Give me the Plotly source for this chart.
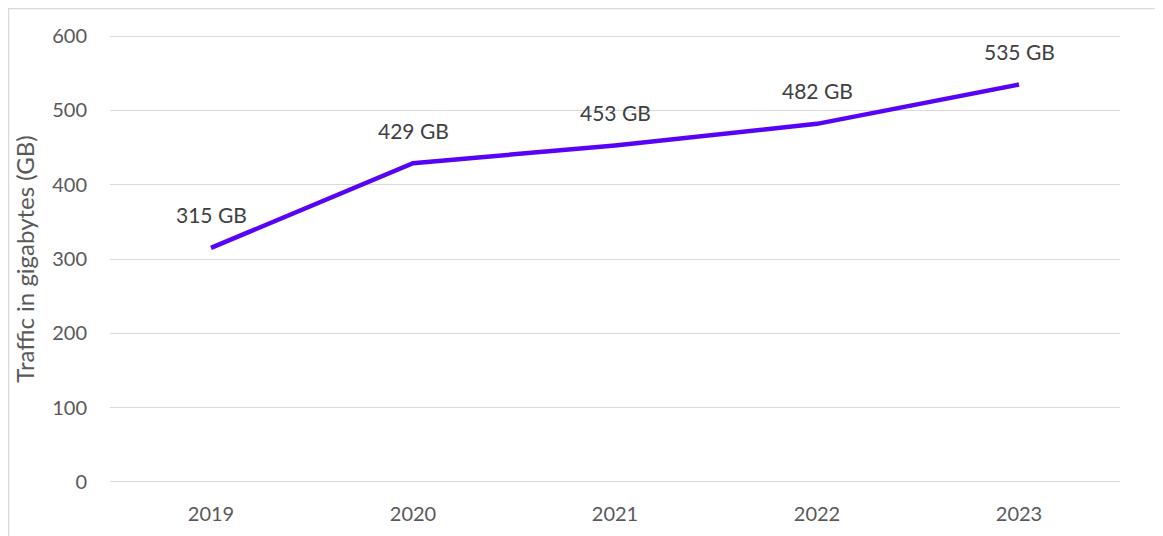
import plotly.graph_objects as go

years = ['2019', '2020', '2021', '2022', '2023']
traffic_gb = [315, 429, 453, 482, 535]
point_labels = ['315 GB', '429 GB', '453 GB', '482 GB', '535 GB']
y_ticks = [0, 100, 200, 300, 400, 500, 600]

fig = go.Figure()
fig.add_trace(go.Scatter(x=years, y=traffic_gb, mode='lines',
                         line=dict(color='#5703F5', width=4.5),
                         hoverinfo='x+y', showlegend=False))

# data labels sit above each point, Excel style
for i, (val, lab) in enumerate(zip(traffic_gb, point_labels)):
    fig.add_annotation(x=i, y=val, xref='x', yref='y', text=lab,
                       showarrow=False, yshift=33,
                       font=dict(size=21, color='#404040'))

# outer chart border
fig.add_shape(type='rect', xref='paper', yref='paper',
              x0=-0.1005, x1=1.2, y0=-0.3, y1=1.0567,
              line=dict(color='#D9D9D9', width=1.5), layer='below')

# page has an 8px body margin, so the figure is drawn 8px smaller
# y range padded a little so the 0 and 600 gridlines are still drawn
fig.update_layout(
    width=1155, height=528,
    margin=dict(l=102, r=43, t=26, b=52, autoexpand=False),
    paper_bgcolor='white', plot_bgcolor='white',
    font=dict(family='Lato, Carlito, sans-serif', size=20, color='#595959'),
    xaxis=dict(type='category', range=[-0.5, 4.5], showgrid=False,
               showline=False, zeroline=False, ticks='', automargin=False,
               ticklabelstandoff=16, tickfont=dict(size=20, color='#595959')),
    yaxis=dict(range=[-3, 603], tickvals=y_ticks, showgrid=True,
               gridcolor='#D9D9D9', gridwidth=1.3, zeroline=False,
               showline=False, ticks='', ticklabelstandoff=22, automargin=False,
               tickfont=dict(size=20, color='#595959'),
               title=dict(text='Traffic in gigabytes (GB)', standoff=10,
                          font=dict(size=24, color='#595959'))),
)

fig.write_html('out.html')
